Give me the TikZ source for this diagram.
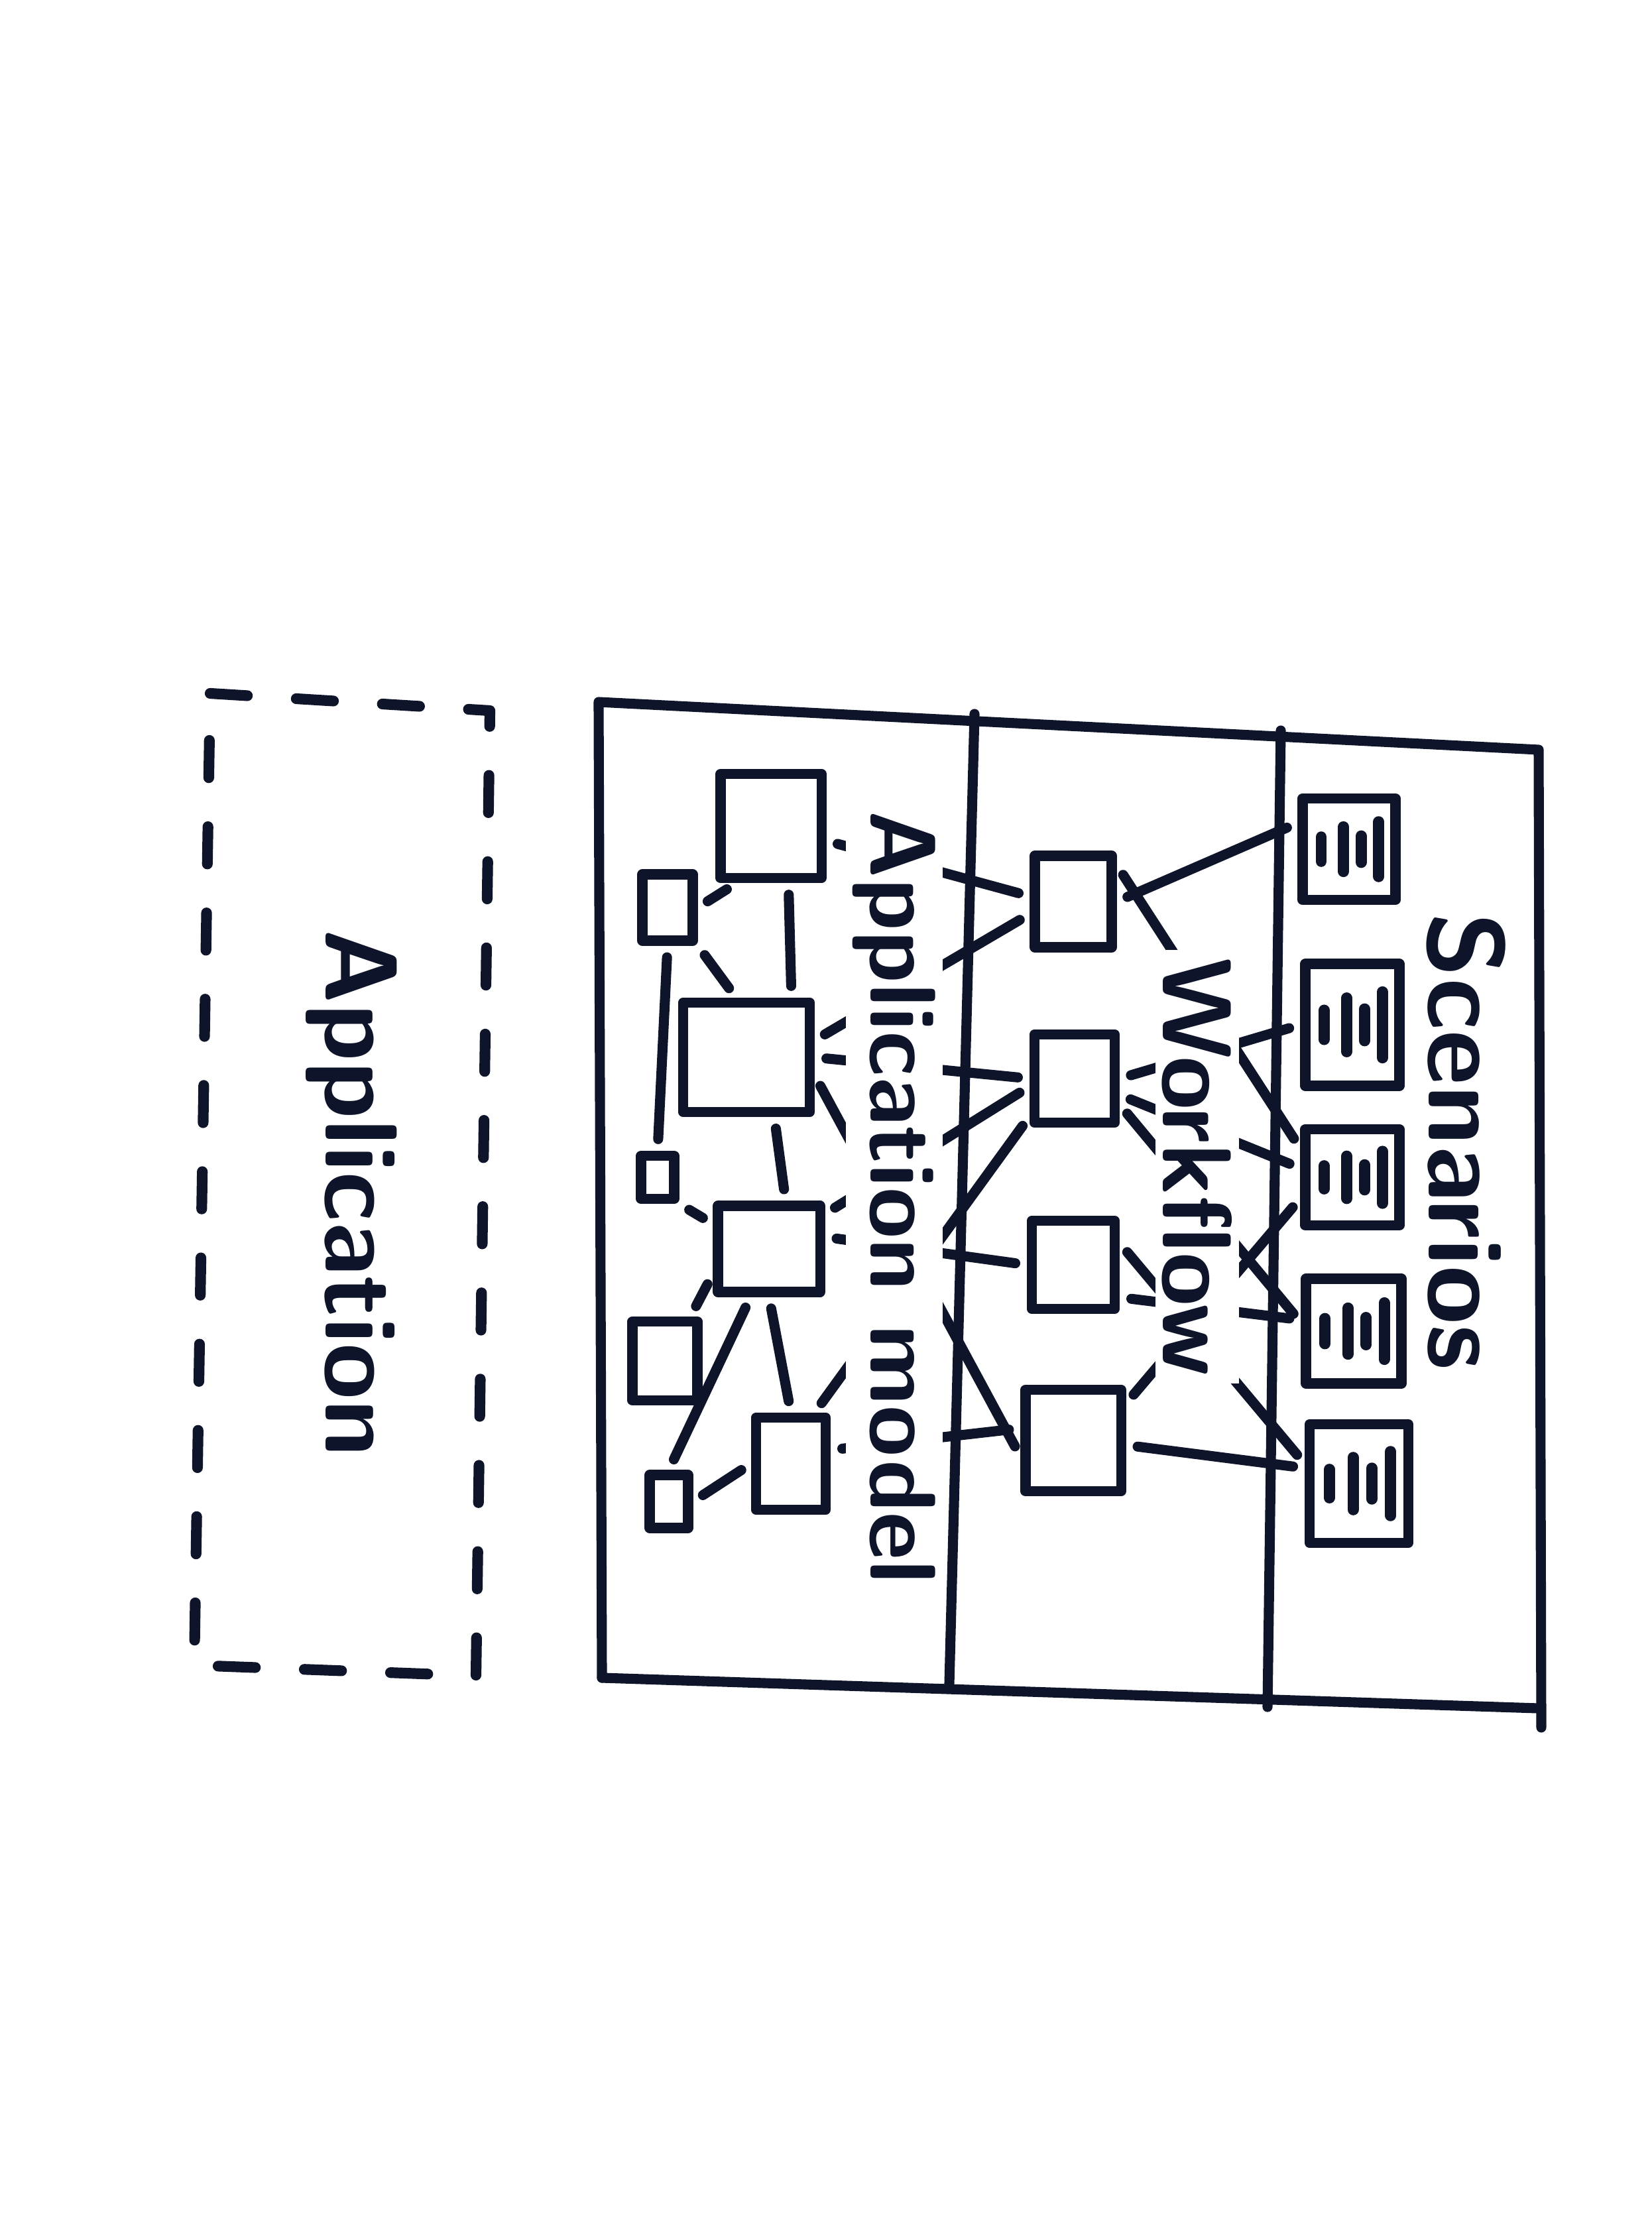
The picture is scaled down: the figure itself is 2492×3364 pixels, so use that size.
\documentclass[tikz,border=0pt]{standalone}
\usepackage{tikz}
\definecolor{ink}{RGB}{14,20,42}

\begin{document}
\begin{tikzpicture}[x=0.01cm, y=-0.01cm,
  pen/.style={ink, line width=4.3pt, line cap=round, line join=round},
  box/.style={pen, draw, inner sep=0pt},
  txtline/.style={ink, line width=4.8pt, line cap=round},
  link/.style={pen, shorten <=5pt, shorten >=5pt},
  lbl/.style={ink, fill=white, inner sep=3pt, rotate=-90,
              font=\sffamily\bfseries\fontsize{#1}{#1}\selectfont}
]
\path[use as bounding box, fill=white] (0,0) rectangle (2492,3364);

\draw[pen, line width=4.6pt, dash pattern=on 16pt off 21pt]
  (317,1046) -- (739,1072) -- (718,2528) -- (293,2512) -- cycle;
\node[lbl=44, fill=none] (app) at (530,1800) {Application};

\draw[pen] (908,2531) -- (903,1059) -- (2321,1131) -- (2325,2606);
\draw[pen] (908,2531) -- (2321,2577);
\draw[pen] (1470,1077) -- (1432,2540);
\draw[pen] (1932,1102) -- (1912,2575);

\foreach \n/\x/\y/\w/\h in {D1/2035/1281/140/153, D2/2040/1546/142/184,
    D3/2040/1776/142/145, D4/2042/2008/144/158, D5/2050/2238/149/179}{
  \node[box, minimum width=\w*0.01cm, minimum height=\h*0.01cm] (\n) at (\x,\y) {};
  \foreach \f/\l in {-0.3/0.12, -0.06/0.22, 0.13/0.13, 0.32/0.27}
    \draw[txtline] (\x+\f*\w,\y-\l*\h) -- (\x+\f*\w,\y+\l*\h);
}

\node[box, minimum width=1.16cm, minimum height=1.38cm] (W1) at (1619,1360) {};
\node[box, minimum width=1.21cm, minimum height=1.33cm] (W2) at (1621,1627) {};
\node[box, minimum width=1.25cm, minimum height=1.33cm] (W3) at (1619,1908) {};
\node[box, minimum width=1.44cm, minimum height=1.53cm] (W4) at (1619,2173) {};

\node[box, minimum width=1.52cm, minimum height=1.57cm] (A1) at (1163,1246) {};
\node[box, minimum width=0.76cm, minimum height=1.00cm] (A2) at (1007,1369) {};
\node[box, minimum width=1.91cm, minimum height=1.65cm] (A3) at (1126,1595) {};
\node[box, minimum width=0.50cm, minimum height=0.65cm] (A4) at (992,1776) {};
\node[box, minimum width=1.54cm, minimum height=1.30cm] (A5) at (1160,1884) {};
\node[box, minimum width=0.98cm, minimum height=1.19cm] (A6) at (1003,2053) {};
\node[box, minimum width=1.05cm, minimum height=1.39cm] (A7) at (1193,2208) {};
\node[box, minimum width=0.58cm, minimum height=0.80cm] (A8) at (1009,2265) {};

\draw[link] (W1.east) -- (D1.153);
\draw[link] (W1.40) -- (D3.151);
\draw[link] (W2.east) -- (D2.west);
\draw[link] (W2.-20) -- (D3.170);
\draw[link] (W2.-30) -- (D4.171);
\draw[link] (W3.-35) -- (D4.168);
\draw[link] (W3.25) -- (D5.160);
\draw[link] (W4.35) -- (D3.202);
\draw[link] (W4.-5) -- (D5.164);

\draw[link] (A1.-15) -- (W1.173);
\draw[link] (A3.14) -- (W1.196);
\draw[link] (A3.east) -- (W2.west);
\draw[link] (A5.32) -- (W2.190);
\draw[link] (A7.65) -- (W2.220);
\draw[link] (A5.12) -- (W3.west);
\draw[link] (A3.-15) -- (W4.197);
\draw[link] (A7.19) -- (W4.167);

\draw[link] (A1.-73) -- (A3.53);
\draw[link] (A1.-121) -- (A2.east);
\draw[link] (A2.south east) -- (A3.100);
\draw[link] (A2.south) -- (A4.north);
\draw[link] (A3.-65) -- (A5.71);
\draw[link] (A4.south east) -- (A5.156);
\draw[link] (A5.204) -- (A6.60);
\draw[link] (A5.-111) -- (A8.north);
\draw[link] (A5.south) -- (A7.north);
\draw[link] (A7.west) -- (A8.east);

\node[lbl=46] (scen) at (2212,1722) {Scenarios};
\node[lbl=42] (wflow) at (1806,1760) {Workflow};
\node[lbl=40] (amodel) at (1349,1806) {Application model};
\end{tikzpicture}
\end{document}
